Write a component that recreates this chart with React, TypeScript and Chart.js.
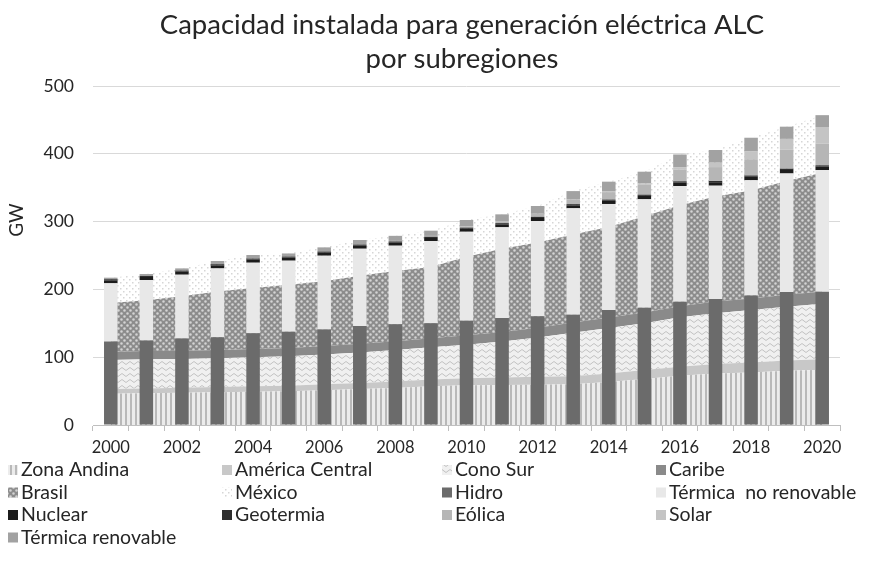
import React, { useEffect, useRef } from 'react';
import { Chart, registerables } from 'chart.js';

Chart.register(...registerables);

const FONT = 'Lato, "Open Sans", sans-serif';

const years = ['2000', '2001', '2002', '2003', '2004', '2005', '2006', '2007', '2008', '2009', '2010', '2011', '2012', '2013', '2014', '2015', '2016', '2017', '2018', '2019', '2020'];

// Subregiones (GW) - stacked area
const zonaAndina = [46, 46.8, 47.5, 48.2, 49, 49.7, 51.3, 53, 54.5, 57, 58.5, 59, 59.5, 60, 63.5, 68, 72.5, 76, 77.5, 80, 81.5];
const americaCentral = [7, 7.2, 7.5, 7.8, 8, 8.3, 8.7, 9, 9.5, 10, 10.5, 11, 11.5, 12, 12.5, 13, 13.5, 14, 14.5, 15, 15.5];
const conoSur = [43, 43, 42.5, 42.5, 43, 43.5, 44, 45, 46.5, 47.5, 49.5, 53, 58, 64, 67, 69, 73, 75, 77.5, 79.5, 82];
const caribe = [12, 12, 12, 12, 12, 12, 12.5, 13, 13, 13.5, 14, 14, 14.5, 15, 15.5, 16, 16, 17, 17, 17.5, 18];
const brasil = [72, 75, 80.5, 86.5, 90, 93.5, 95.5, 100, 103.5, 105, 115.5, 123, 125.5, 130, 133.5, 142, 149, 155, 159.5, 168, 175];
const mexico = [37.3, 38.7, 41, 44.9, 48.7, 46, 50, 52.9, 52, 53.6, 54.4, 50.7, 54, 64, 66.9, 65.6, 75, 68.6, 77.7, 80, 85];

// Tecnologías (GW) - stacked bars
const hidro = [123, 124.5, 127.5, 129.5, 135.5, 137.6, 141, 146, 148.7, 150, 153.9, 157.8, 160.3, 162.5, 169.6, 173, 181.9, 185.8, 191, 196, 196.6];
const termicaNoRenovable = [86, 89.4, 94.2, 101.5, 103.9, 104.8, 108.7, 114, 115.8, 121.4, 131.1, 133.8, 140.6, 157.1, 156.4, 159.9, 170.6, 167.2, 170, 175, 179.4];
const nuclear = [4.4, 4.4, 4.4, 4.4, 4.4, 4.4, 4.4, 4.4, 4.4, 4.4, 4.4, 4.4, 4.4, 4.4, 4.8, 5.1, 5.1, 5.1, 5.1, 5.1, 5.1];
const geotermia = [1.6, 1.7, 1.7, 1.7, 1.7, 1.7, 1.8, 1.8, 1.8, 1.8, 1.7, 1.7, 1.7, 1.7, 1.7, 1.7, 1.8, 1.8, 1.9, 1.9, 1.9];
const eolica = [0.1, 0.1, 0.1, 0.1, 0.1, 0.2, 0.3, 0.4, 0.8, 1.3, 2, 3, 4.5, 6.5, 11, 14.5, 17.5, 20.5, 24, 28, 32];
const solar = [0, 0, 0, 0, 0, 0, 0, 0, 0, 0, 0, 0, 0.1, 0.3, 0.8, 2, 3.5, 6.5, 12, 16, 24.5];
const termicaRenovable = [2.2, 2.6, 3.1, 4.7, 5.1, 4.3, 5.8, 6.3, 7.5, 7.7, 9.3, 10, 11.4, 12.5, 14.6, 17.4, 18.6, 18.7, 19.7, 18, 17.5];

const titleLines = ['Capacidad instalada para generación eléctrica ALC', 'por subregiones'];
const yTicks = [0, 100, 200, 300, 400, 500];
const yTitle = 'GW';

type Drawer = (ctx: CanvasRenderingContext2D, w: number, h: number) => void;

function makePattern(w: number, h: number, draw: Drawer): CanvasPattern {
  const c = document.createElement('canvas');
  c.width = w;
  c.height = h;
  const ctx = c.getContext('2d')!;
  draw(ctx, w, h);
  return ctx.createPattern(c, 'repeat')!;
}

export default function App() {
  const ref = useRef<HTMLCanvasElement | null>(null);

  useEffect(() => {
    document.body.style.margin = '0';
    const canvas = ref.current;
    if (!canvas) return;

    const pZona = makePattern(5, 4, (ctx, w, h) => {
      ctx.fillStyle = '#ececec';
      ctx.fillRect(0, 0, w, h);
      ctx.fillStyle = '#b9b9b9';
      ctx.fillRect(0, 0, 2, h);
    });
    const pCono = makePattern(8, 6, (ctx, w, h) => {
      ctx.fillStyle = '#f0f0f0';
      ctx.fillRect(0, 0, w, h);
      ctx.strokeStyle = '#c2c2c2';
      ctx.lineWidth = 1;
      ctx.beginPath();
      ctx.moveTo(0, 3);
      ctx.quadraticCurveTo(2, 0, 4, 3);
      ctx.quadraticCurveTo(6, 6, 8, 3);
      ctx.stroke();
    });
    const pBrasil = makePattern(6, 6, (ctx, w, h) => {
      ctx.fillStyle = '#8c8c8c';
      ctx.fillRect(0, 0, w, h);
      ctx.fillStyle = '#d4d4d4';
      ctx.beginPath();
      ctx.arc(1.5, 1.5, 1.3, 0, Math.PI * 2);
      ctx.arc(4.5, 4.5, 1.3, 0, Math.PI * 2);
      ctx.fill();
    });
    const pMexico = makePattern(6, 6, (ctx, w, h) => {
      ctx.fillStyle = '#ffffff';
      ctx.fillRect(0, 0, w, h);
      ctx.fillStyle = '#d6d6d6';
      ctx.fillRect(0, 0, 1.5, 1.5);
      ctx.fillRect(3, 3, 1.5, 1.5);
    });

    const area = (label: string, data: number[], bg: any, first: boolean) => ({
      type: 'line' as const,
      label,
      data,
      backgroundColor: bg,
      borderColor: 'rgba(0,0,0,0)',
      borderWidth: 0.5,
      pointRadius: 0,
      pointHoverRadius: 0,
      tension: 0,
      fill: first ? 'origin' : '-1',
      stack: 'reg',
      order: 1,
    });
    const bar = (label: string, data: number[], bg: string) => ({
      type: 'bar' as const,
      label,
      data,
      backgroundColor: bg,
      borderWidth: 0,
      barPercentage: 0.38,
      categoryPercentage: 1,
      stack: 'tech',
      order: 0,
    });

    const datasets: any[] = [
      area('Zona Andina', zonaAndina, pZona, true),
      area('América Central', americaCentral, '#c8c8c8', false),
      area('Cono Sur', conoSur, pCono, false),
      area('Caribe', caribe, '#8a8a8a', false),
      area('Brasil', brasil, pBrasil, false),
      area('México', mexico, pMexico, false),
      bar('Hidro', hidro, '#6b6b6b'),
      bar('Térmica  no renovable', termicaNoRenovable, '#e8e8e8'),
      bar('Nuclear', nuclear, '#1c1c1c'),
      bar('Geotermia', geotermia, '#2e2e2e'),
      bar('Eólica', eolica, '#b6b6b6'),
      bar('Solar', solar, '#c4c4c4'),
      bar('Térmica renovable', termicaRenovable, '#a2a2a2'),
    ];

    const overlay = {
      id: 'overlay',
      afterDraw(chart: any) {
        const ctx: CanvasRenderingContext2D = chart.ctx;
        ctx.save();
        ctx.fillStyle = '#262626';
        ctx.textAlign = 'center';
        ctx.textBaseline = 'middle';
        ctx.font = `27.5px ${FONT}`;
        ctx.fillText(titleLines[0], 462, 25);
        ctx.fillText(titleLines[1], 462, 59);
        ctx.save();
        ctx.translate(17, 220);
        ctx.rotate(-Math.PI / 2);
        ctx.font = `19px ${FONT}`;
        ctx.fillText(yTitle, 0, 0);
        ctx.restore();

        // legend
        const cols = [8, 222, 442, 656];
        ctx.textAlign = 'left';
        ctx.font = `19.5px ${FONT}`;
        chart.data.datasets.forEach((ds: any, i: number) => {
          const col = i % 4;
          const row = Math.floor(i / 4);
          const x = cols[col];
          const y = 470 + row * 22.5;
          ctx.fillStyle = ds.backgroundColor;
          ctx.fillRect(x, y - 5, 10, 10);
          ctx.fillStyle = '#262626';
          ctx.fillText(ds.label, x + 13, y);
        });
        ctx.restore();
      },
    };

    const chart = new Chart(canvas, {
      type: 'bar',
      data: { labels: years, datasets },
      options: {
        animation: false,
        responsive: true,
        maintainAspectRatio: false,
        layout: { padding: { top: 86, right: 34, bottom: 111, left: 0 } },
        plugins: {
          legend: { display: false },
          title: { display: false },
          tooltip: { enabled: false },
          filler: { propagate: false },
        },
        scales: {
          x: {
            type: 'category',
            offset: true,
            grid: { offset: true, drawOnChartArea: false, drawTicks: true, tickLength: 6, color: '#bfbfbf' },
            border: { display: true, color: '#bfbfbf' },
            ticks: {
              autoSkip: false,
              maxRotation: 0,
              minRotation: 0,
              padding: 7,
              color: '#262626',
              font: { family: FONT, size: 16.5 },
              callback: (_v: any, i: number) => (i % 2 === 0 ? years[i] : ''),
            },
            afterFit: (s: any) => {
              s.height = 30;
            },
          },
          y: {
            stacked: true,
            min: 0,
            max: 500,
            afterBuildTicks: (s: any) => {
              s.ticks = yTicks.map((v) => ({ value: v }));
            },
            ticks: { padding: 19, color: '#262626', font: { family: FONT, size: 17.5 } },
            grid: { color: '#d9d9d9', drawTicks: false },
            border: { display: false },
            afterFit: (s: any) => {
              s.width = 93;
            },
          },
        },
      } as any,
      plugins: [overlay],
    });

    return () => chart.destroy();
  }, []);

  return (
    <div style={{ position: 'absolute', left: 0, top: 0, width: 874, height: 566, background: '#fff' }}>
      <canvas ref={ref} />
    </div>
  );
}
